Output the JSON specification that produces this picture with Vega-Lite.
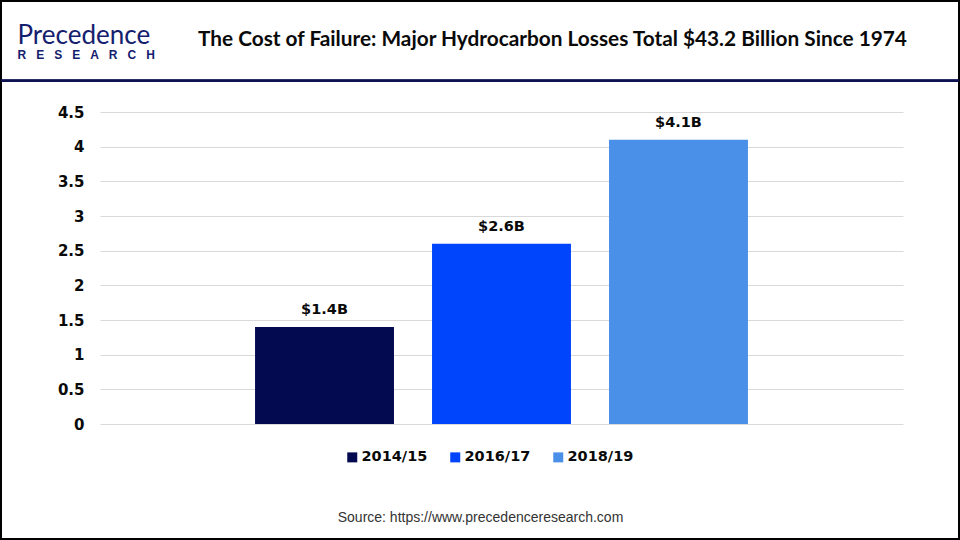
{
  "$schema": "https://vega.github.io/schema/vega-lite/v6.json",
  "width": 958,
  "height": 538,
  "autosize": {"type": "none"},
  "padding": 1,
  "background": "#ffffff",
  "title": {
    "text": "The Cost of Failure: Major Hydrocarbon Losses Total $43.2 Billion Since 1974",
    "anchor": "start",
    "frame": "group",
    "dx": 197,
    "offset": -66,
    "baseline": "alphabetic",
    "font": "Lato",
    "fontSize": 20.8,
    "fontWeight": "bold",
    "color": "#0a0a0a"
  },
  "data": {
    "values": [
      {"period": "2014/15", "value": 1.4, "label": "$1.4B"},
      {"period": "2016/17", "value": 2.6, "label": "$2.6B"},
      {"period": "2018/19", "value": 4.1, "label": "$4.1B"}
    ]
  },
  "resolve": {"axis": {"y": "independent"}},
  "layer": [
    {
      "mark": {"type": "bar"},
      "encoding": {
        "x": {
          "field": "period",
          "type": "nominal",
          "sort": null,
          "scale": {"range": [99, 902], "paddingInner": 0.215, "paddingOuter": 0.876},
          "axis": {
            "labels": false,
            "ticks": false,
            "domain": false,
            "grid": false,
            "title": "Source: https://www.precedenceresearch.com",
            "titleFont": "Liberation Sans",
            "titleFontSize": 14,
            "titleFontWeight": "normal",
            "titleColor": "#333333",
            "titleX": 479,
            "titleY": -22,
            "titleAlign": "center",
            "titleBaseline": "middle"
          }
        },
        "y": {
          "field": "value",
          "type": "quantitative",
          "scale": {"domain": [0, 4.5], "range": [423, 111], "nice": false},
          "axis": {
            "values": [0, 0.5, 1, 1.5, 2, 2.5, 3, 3.5, 4, 4.5],
            "format": "~g",
            "grid": true,
            "gridColor": "#d9d9d9",
            "gridWidth": 1,
            "ticks": false,
            "tickSize": 0,
            "domain": false,
            "labelFont": "DejaVu Sans",
            "labelFontWeight": "bold",
            "labelFontSize": 15,
            "labelColor": "#0a0a0a",
            "labelPadding": 0,
            "offset": -83,
            "title": "Precedence",
            "titleFont": "Lato",
            "titleFontSize": 26,
            "titleFontWeight": "normal",
            "titleColor": "#14206e",
            "titleAngle": 0,
            "titleAlign": "left",
            "titleBaseline": "alphabetic",
            "titleX": -67,
            "titleY": 42
          }
        },
        "color": {
          "field": "period",
          "type": "nominal",
          "scale": {
            "domain": ["2014/15", "2016/17", "2018/19"],
            "range": ["#030a50", "#0044fb", "#4a90e8"]
          },
          "legend": {
            "orient": "none",
            "legendX": 344,
            "legendY": 449,
            "direction": "horizontal",
            "title": null,
            "symbolType": "square",
            "symbolSize": 100,
            "symbolStrokeWidth": 0,
            "labelFont": "DejaVu Sans",
            "labelFontWeight": "bold",
            "labelFontSize": 14.5,
            "labelColor": "#0a0a0a",
            "labelOffset": 2,
            "columnPadding": 20,
            "padding": 0
          }
        }
      }
    },
    {
      "mark": {
        "type": "text",
        "font": "DejaVu Sans",
        "fontWeight": "bold",
        "fontSize": 14.5,
        "baseline": "alphabetic",
        "dy": -12.5,
        "color": "#0a0a0a"
      },
      "encoding": {
        "x": {
          "field": "period",
          "type": "nominal",
          "sort": null,
          "scale": {"range": [99, 902], "paddingInner": 0.215, "paddingOuter": 0.876},
          "axis": {
            "labels": false,
            "ticks": false,
            "domain": false,
            "grid": false,
            "title": "Source: https://www.precedenceresearch.com",
            "titleFont": "Liberation Sans",
            "titleFontSize": 14,
            "titleFontWeight": "normal",
            "titleColor": "#333333",
            "titleX": 479,
            "titleY": -22,
            "titleAlign": "center",
            "titleBaseline": "middle"
          }
        },
        "y": {
          "field": "value",
          "type": "quantitative",
          "axis": {
            "orient": "right",
            "labels": false,
            "ticks": false,
            "domain": false,
            "grid": false,
            "title": "R\u00a0\u00a0\u00a0E\u00a0\u00a0\u00a0S\u00a0\u00a0\u00a0E\u00a0\u00a0\u00a0A\u00a0\u00a0\u00a0R\u00a0\u00a0\u00a0C\u00a0\u00a0\u00a0H",
            "titleFont": "Liberation Sans",
            "titleFontSize": 12,
            "titleFontWeight": "bold",
            "titleColor": "#14206e",
            "titleAngle": 0,
            "titleAlign": "left",
            "titleBaseline": "alphabetic",
            "titleX": -942,
            "titleY": 57
          }
        },
        "text": {"field": "label"}
      }
    },
    {
      "mark": {"type": "rule", "color": "#0d1350", "strokeWidth": 2.5},
      "encoding": {
        "y": {"datum": 4.95, "type": "quantitative", "axis": null}
      }
    }
  ],
  "config": {
    "view": {"stroke": "#000000", "strokeWidth": 2}
  }
}
